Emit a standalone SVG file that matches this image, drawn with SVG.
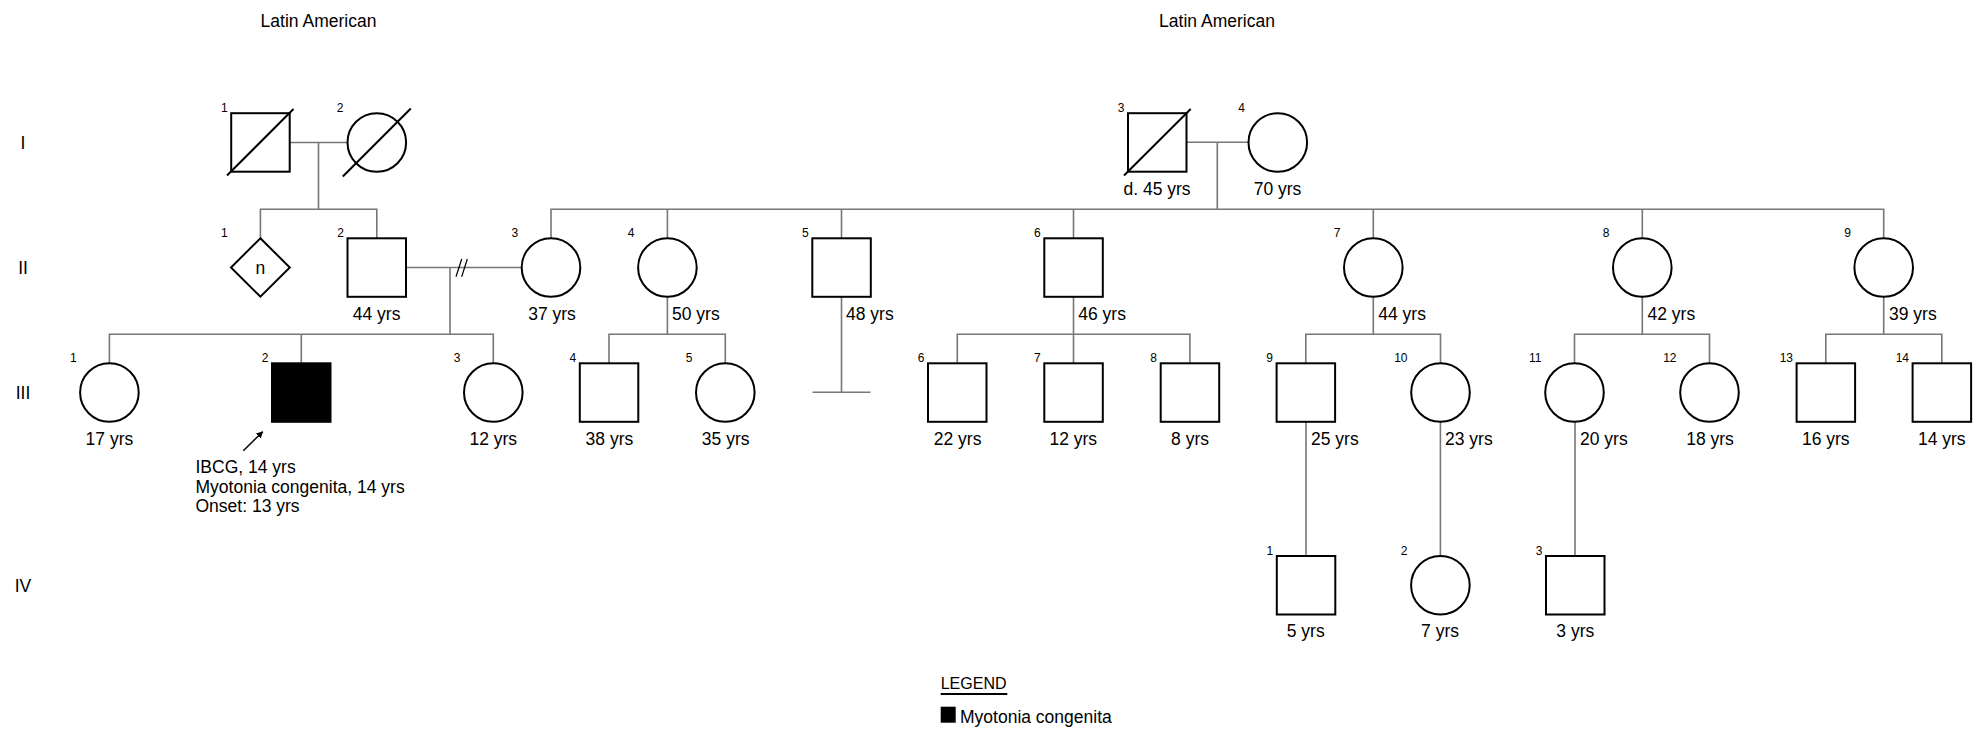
<svg xmlns="http://www.w3.org/2000/svg" width="1984" height="730" viewBox="0 0 1984 730">
<defs>
<style>
text{font-family:"Liberation Sans",Arial,sans-serif;fill:#000}
.t{font-size:17.5px}
.c{text-anchor:middle}
.id{font-size:12px;text-anchor:end}
.s{fill:#fff;stroke:#000;stroke-width:2}
.a{fill:#000;stroke:#000;stroke-width:2}
.d{stroke:#000;stroke-width:2}
.ln{stroke:#777;stroke-width:1.6;fill:none}
</style>
<marker id="ah" viewBox="0 0 10 10" refX="9" refY="5" markerWidth="7" markerHeight="7" orient="auto" markerUnits="userSpaceOnUse">
<path d="M0,0 L10,5 L0,10 z" fill="#000"/>
</marker>
</defs>
<rect width="1984" height="730" fill="#fff"/>

<g id="labels">
<text class="t c" x="318.5" y="26.5">Latin American</text>
<text class="t c" x="1217" y="26.5">Latin American</text>
<text class="t c" x="23" y="149">I</text>
<text class="t c" x="23" y="274">II</text>
<text class="t c" x="23" y="399">III</text>
<text class="t c" x="23" y="592">IV</text>
</g>

<g id="connectors">
<path class="ln" d="M290,142.5 H347.5 M318.5,142.5 V209.3 M260.4,238.3 V209.3 H376.8 V238.3"/>
<path class="ln" d="M1186.5,142.3 H1248.5 M1217.3,142.3 V209.3 M551,238.3 V209.3 H1883.7 V238.3 M667.4,209.3 V238.3 M841.5,209.3 V238.3 M1073.5,209.3 V238.3 M1373.3,209.3 V238.3 M1642.3,209.3 V238.3"/>
<path class="ln" d="M406,267.5 H521.7 M450,267.5 V334.3 M109.4,363.3 V334.3 H493.3 V363.3 M301.3,334.3 V363.3"/>
<path d="M456,276.7 L461.7,259 M461.7,276.7 L467.3,259" stroke="#000" stroke-width="1.2"/>
<path class="ln" d="M667.4,296.8 V334.3 M609,363.3 V334.3 H725.3 V363.3"/>
<path class="ln" d="M841.5,296.8 V392.3 M812.5,392.3 H870.5"/>
<path class="ln" d="M1073.5,296.8 V363.3 M957.3,363.3 V334.3 H1189.9 V363.3"/>
<path class="ln" d="M1373.3,296.8 V334.3 M1305.8,363.3 V334.3 H1440.5 V363.3"/>
<path class="ln" d="M1642.3,296.8 V334.3 M1574.5,363.3 V334.3 H1709.5 V363.3"/>
<path class="ln" d="M1883.7,296.8 V334.3 M1825.8,363.3 V334.3 H1941.8 V363.3"/>
<path class="ln" d="M1306,421.8 V556 M1440.4,421.8 V556 M1575,421.8 V556"/>
</g>

<g id="I-1"><rect class="s" x="231.2" y="113.2" width="58.5" height="58.5"/><line class="d" x1="227" y1="175.5" x2="293.5" y2="109"/><text class="id" x="227.7" y="111.7">1</text></g>
<g id="I-2"><circle class="s" cx="376.8" cy="142.5" r="29.3"/><line class="d" x1="342.8" y1="176.5" x2="410.8" y2="108.5"/><text class="id" x="343.5" y="111.7">2</text></g>
<g id="I-3"><rect class="s" x="1128" y="113.2" width="58.5" height="58.5"/><line class="d" x1="1124" y1="175.5" x2="1190.7" y2="109"/><text class="id" x="1124.5" y="111.7">3</text><text class="t c" x="1157" y="195">d. 45 yrs</text></g>
<g id="I-4"><circle class="s" cx="1277.8" cy="142.5" r="29.3"/><text class="id" x="1245" y="111.7">4</text><text class="t c" x="1277.5" y="195">70 yrs</text></g>

<g id="II-1"><path class="s" d="M260.4,238.3 L289.8,267.5 L260.4,296.7 L231,267.5 Z"/><text class="t c" x="260.4" y="273.5">n</text><text class="id" x="227.7" y="236.8">1</text></g>
<g id="II-2"><rect class="s" x="347.5" y="238.3" width="58.5" height="58.5"/><text class="id" x="344" y="236.8">2</text><text class="t c" x="376.6" y="320">44 yrs</text></g>
<g id="II-3"><circle class="s" cx="551" cy="267.5" r="29.3"/><text class="id" x="518.2" y="236.8">3</text><text class="t c" x="552" y="320">37 yrs</text></g>
<g id="II-4"><circle class="s" cx="667.4" cy="267.5" r="29.3"/><text class="id" x="634.5" y="236.8">4</text><text class="t" x="672" y="320">50 yrs</text></g>
<g id="II-5"><rect class="s" x="812.3" y="238.3" width="58.5" height="58.5"/><text class="id" x="808.7" y="236.8">5</text><text class="t" x="846" y="320">48 yrs</text></g>
<g id="II-6"><rect class="s" x="1044.3" y="238.3" width="58.5" height="58.5"/><text class="id" x="1040.7" y="236.8">6</text><text class="t" x="1078.3" y="320">46 yrs</text></g>
<g id="II-7"><circle class="s" cx="1373.3" cy="267.5" r="29.3"/><text class="id" x="1340.5" y="236.8">7</text><text class="t" x="1378.3" y="320">44 yrs</text></g>
<g id="II-8"><circle class="s" cx="1642.3" cy="267.5" r="29.3"/><text class="id" x="1609.5" y="236.8">8</text><text class="t" x="1647.5" y="320">42 yrs</text></g>
<g id="II-9"><circle class="s" cx="1883.7" cy="267.5" r="29.3"/><text class="id" x="1851" y="236.8">9</text><text class="t" x="1889" y="320">39 yrs</text></g>

<g id="III-1"><circle class="s" cx="109.4" cy="392.5" r="29.3"/><text class="id" x="76.6" y="361.8">1</text><text class="t c" x="109.4" y="444.5">17 yrs</text></g>
<g id="III-2"><rect class="a" x="272" y="363.3" width="58.5" height="58.5"/><text class="id" x="268.5" y="361.8">2</text>
<line x1="243.3" y1="450.7" x2="262.7" y2="431.7" stroke="#000" stroke-width="1.5" marker-end="url(#ah)"/>
<text class="t" x="195.5" y="473.3">IBCG, 14 yrs</text>
<text class="t" x="195.5" y="492.7">Myotonia congenita, 14 yrs</text>
<text class="t" x="195.5" y="512">Onset: 13 yrs</text></g>
<g id="III-3"><circle class="s" cx="493.3" cy="392.5" r="29.3"/><text class="id" x="460.5" y="361.8">3</text><text class="t c" x="493.3" y="444.5">12 yrs</text></g>
<g id="III-4"><rect class="s" x="579.8" y="363.3" width="58.5" height="58.5"/><text class="id" x="576.3" y="361.8">4</text><text class="t c" x="609.4" y="444.5">38 yrs</text></g>
<g id="III-5"><circle class="s" cx="725.3" cy="392.5" r="29.3"/><text class="id" x="692.5" y="361.8">5</text><text class="t c" x="725.7" y="444.5">35 yrs</text></g>
<g id="III-6"><rect class="s" x="928" y="363.3" width="58.5" height="58.5"/><text class="id" x="924.5" y="361.8">6</text><text class="t c" x="957.6" y="444.5">22 yrs</text></g>
<g id="III-7"><rect class="s" x="1044.3" y="363.3" width="58.5" height="58.5"/><text class="id" x="1040.7" y="361.8">7</text><text class="t c" x="1073.3" y="444.5">12 yrs</text></g>
<g id="III-8"><rect class="s" x="1160.7" y="363.3" width="58.5" height="58.5"/><text class="id" x="1157" y="361.8">8</text><text class="t c" x="1190" y="444.5">8 yrs</text></g>
<g id="III-9"><rect class="s" x="1276.6" y="363.3" width="58.5" height="58.5"/><text class="id" x="1273" y="361.8">9</text><text class="t" x="1311" y="444.5">25 yrs</text></g>
<g id="III-10"><circle class="s" cx="1440.5" cy="392.5" r="29.3"/><text class="id" x="1407.5" y="361.8">10</text><text class="t" x="1445" y="444.5">23 yrs</text></g>
<g id="III-11"><circle class="s" cx="1574.5" cy="392.5" r="29.3"/><text class="id" x="1541.5" y="361.8">11</text><text class="t" x="1580" y="444.5">20 yrs</text></g>
<g id="III-12"><circle class="s" cx="1709.5" cy="392.5" r="29.3"/><text class="id" x="1676.5" y="361.8">12</text><text class="t c" x="1710" y="444.5">18 yrs</text></g>
<g id="III-13"><rect class="s" x="1796.6" y="363.3" width="58.5" height="58.5"/><text class="id" x="1793" y="361.8">13</text><text class="t c" x="1825.8" y="444.5">16 yrs</text></g>
<g id="III-14"><rect class="s" x="1912.6" y="363.3" width="58.5" height="58.5"/><text class="id" x="1909" y="361.8">14</text><text class="t c" x="1941.8" y="444.5">14 yrs</text></g>

<g id="IV-1"><rect class="s" x="1276.8" y="556" width="58.5" height="58.5"/><text class="id" x="1273.3" y="554.5">1</text><text class="t c" x="1305.7" y="636.7">5 yrs</text></g>
<g id="IV-2"><circle class="s" cx="1440.4" cy="585.3" r="29.3"/><text class="id" x="1407.5" y="554.5">2</text><text class="t c" x="1440" y="636.7">7 yrs</text></g>
<g id="IV-3"><rect class="s" x="1546" y="556" width="58.5" height="58.5"/><text class="id" x="1542.5" y="554.5">3</text><text class="t c" x="1575.3" y="636.7">3 yrs</text></g>

<g id="legend">
<text x="940.7" y="689" style="font-size:16px">LEGEND</text>
<line x1="940.7" y1="694" x2="1007.3" y2="694" stroke="#000" stroke-width="2"/>
<rect x="940.7" y="706.7" width="15" height="16" fill="#000"/>
<text class="t" x="960" y="722.5">Myotonia congenita</text>
</g>
</svg>
